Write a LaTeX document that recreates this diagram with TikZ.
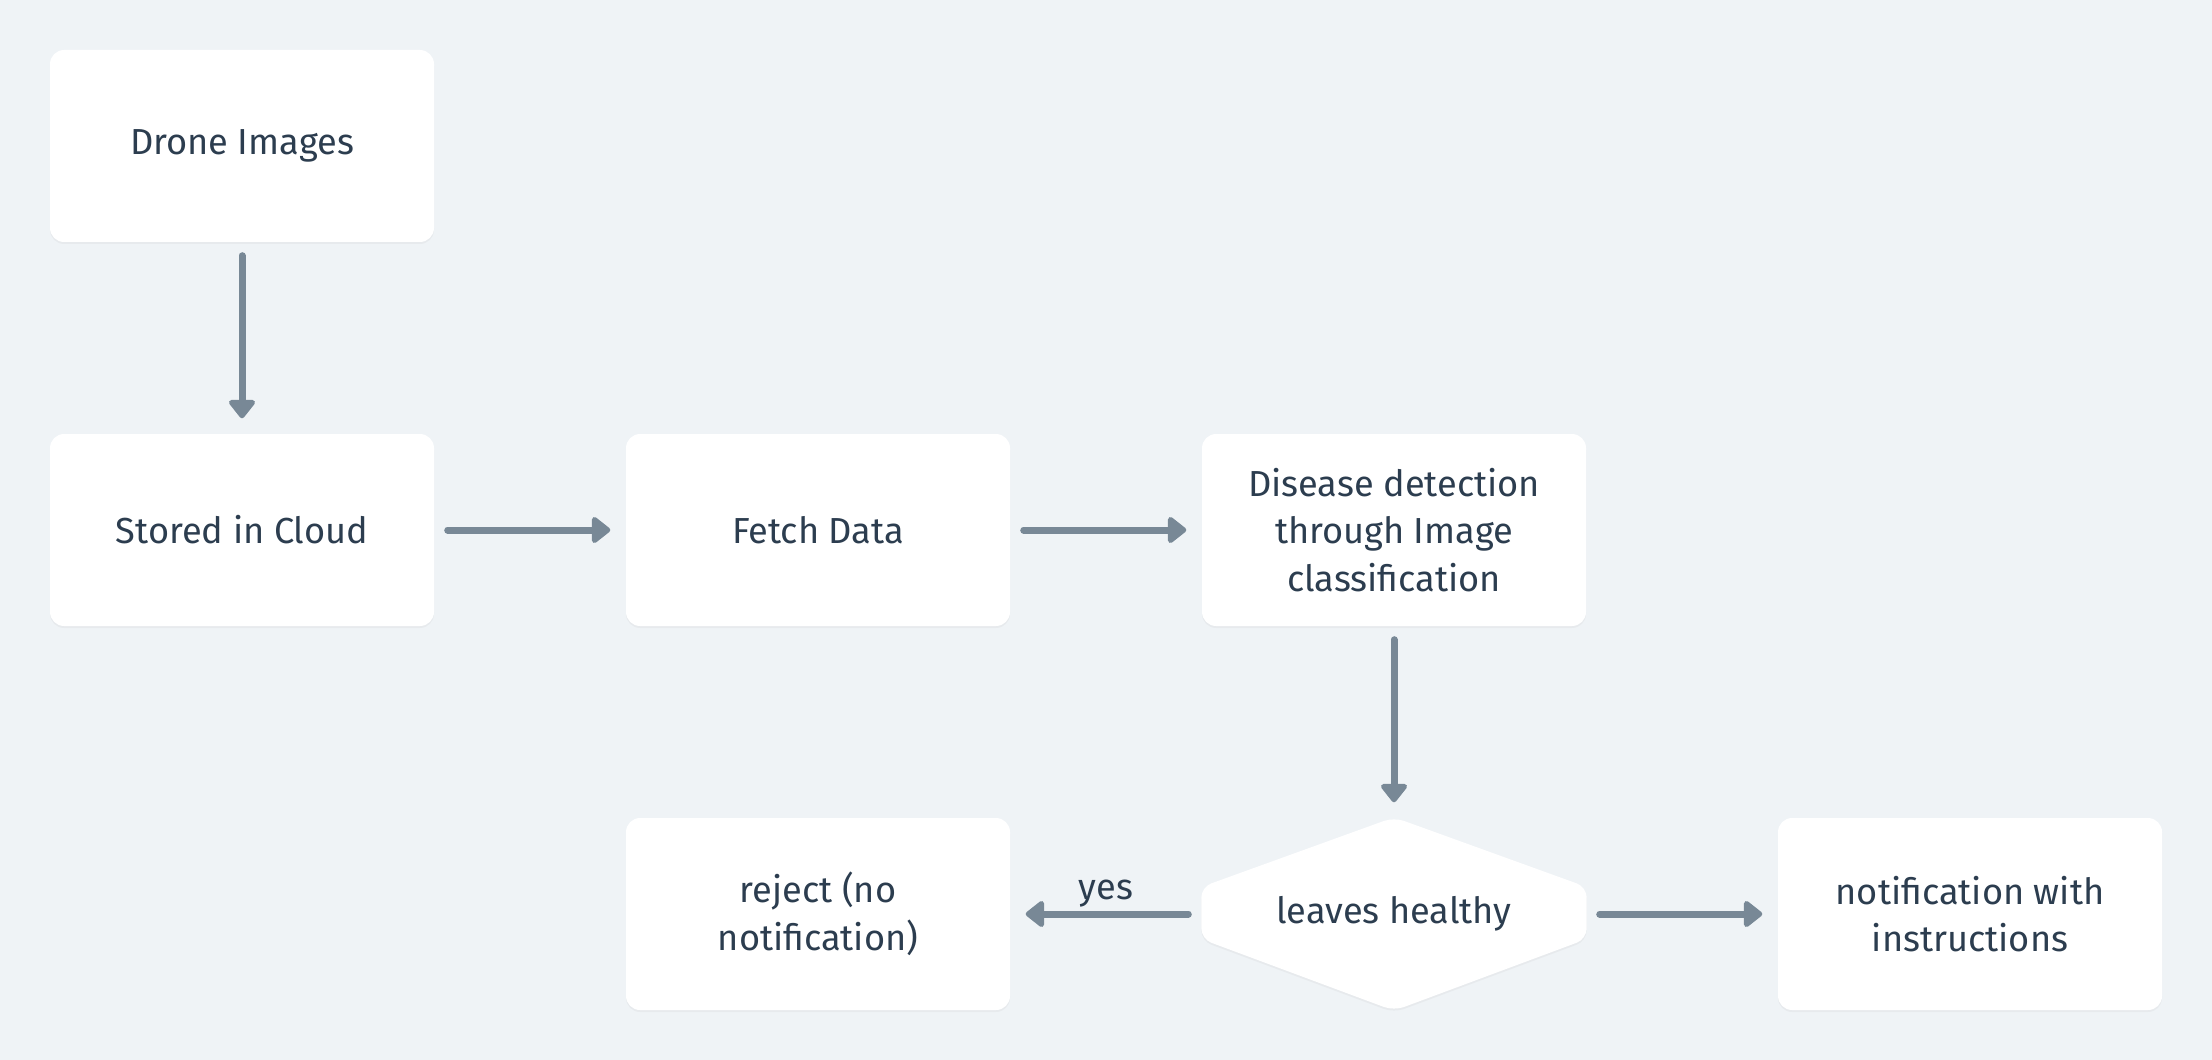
\documentclass[tikz,border=0pt]{standalone}
\usepackage{fontspec}
\setmainfont{Fira Sans}
\definecolor{pagebg}{HTML}{EFF3F6}
\definecolor{arrowgray}{HTML}{788896}
\definecolor{textdark}{HTML}{2C3D4F}
\usepackage{tikz}
\usetikzlibrary{
  positioning, backgrounds, shadows, calc, arrows.meta
}
\tikzset{
	basenode/.style={
			rectangle,
			draw=none,
			minimum width=3.84cm,
			minimum height=1.92cm,
			inner sep=0pt,
			align=center,
			text=textdark,
			font=\fontsize{10.3}{13.6}\selectfont
		},
	boxnode/.style={
			basenode,
			rounded corners=4pt,
			fill=white,
			drop shadow={shadow xshift=0cm, shadow yshift=-0.02cm, opacity=0.07}
		},
	decisionnode/.style={
			basenode,
			fill=none
		},
	flowarrow/.style={
			color=arrowgray,
			line width=0.07cm,
			line cap=round,
			-{Triangle[width=0.3cm, length=0.2cm, round, color=arrowgray]},
			shorten <=0.13cm,
			shorten >=0.15cm
		},
	flowlabel/.style={
			text=textdark,
			font=\fontsize{10.3}{13.6}\selectfont,
			inner sep=1pt
		}
}
\begin{document}
\begin{tikzpicture}
\useasboundingbox (0,0) rectangle (22.12,-10.6);

\node[boxnode] (tDrone) at (2.42,-1.46) {Drone Images};
\node[boxnode] (tCloud) at (2.42,-5.30) {Stored in Cloud};
\node[boxnode] (tFetch) at (8.18,-5.30) {Fetch Data};
\node[boxnode] (tDetect) at (13.94,-5.30) {Disease detection\\through Image\\classification};
\node[decisionnode] (tHealthy) at (13.94,-9.14) {leaves healthy};
\node[boxnode] (tReject) at (8.18,-9.14) {reject (no\\notification)};
\node[boxnode] (tNotify) at (19.70,-9.14) {notification with\\instructions};

\begin{scope}[on background layer]
\fill[pagebg] (0,0) rectangle (22.12,-10.6);
\fill[white, rounded corners=3pt, drop shadow={shadow xshift=0cm, shadow yshift=-0.02cm, opacity=0.07}]
  (tHealthy.north) -- ($(tHealthy.east)+(0,0.27)$) -- ($(tHealthy.east)+(0,-0.25)$)
  -- (tHealthy.south) -- ($(tHealthy.west)+(0,-0.25)$) -- ($(tHealthy.west)+(0,0.27)$) -- cycle;
\end{scope}

\draw[flowarrow] (tDrone) edge (tCloud);
\draw[flowarrow] (tCloud) edge (tFetch);
\draw[flowarrow] (tFetch) edge (tDetect);
\draw[flowarrow] (tDetect) edge (tHealthy);
\draw[flowarrow] (tHealthy) edge node[flowlabel, above] {yes} (tReject);
\draw[flowarrow] (tHealthy) edge (tNotify);

\end{tikzpicture}
\end{document}
